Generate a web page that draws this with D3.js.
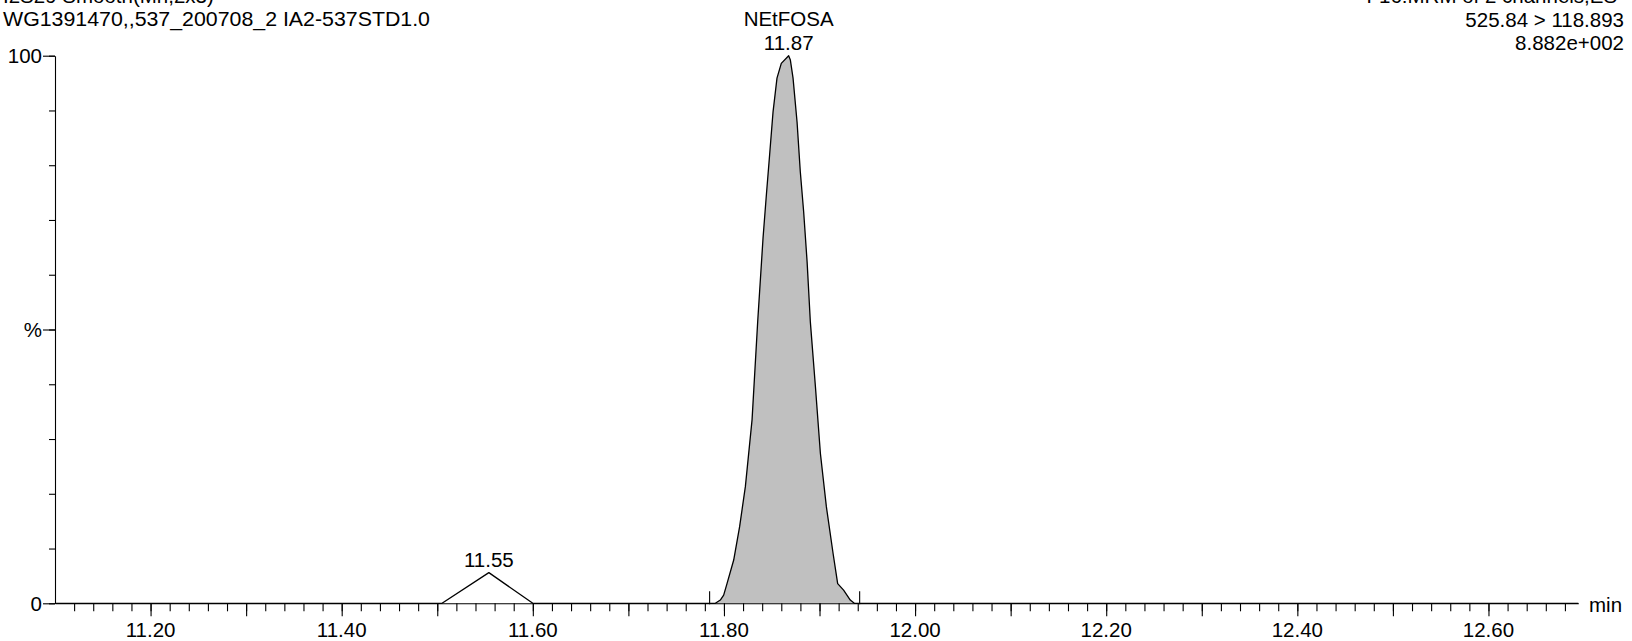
<!DOCTYPE html>
<html><head><meta charset="utf-8">
<script src="https://cdn.jsdelivr.net/npm/d3@7"></script>
<style>
body{margin:0;background:#fff}
svg{display:block}
text{font-family:"Liberation Sans",Arial,Helvetica,sans-serif;font-size:20.5px;fill:#000}
</style>
</head><body>
<svg id="c" width="1632" height="641"></svg>
<script>
// ---- data ----
const headerLeft = ["I2S29 Smooth(Mn,2x3)", "WG1391470,,537_200708_2 IA2-537STD1.0"];
const headerRight = ["F16:MRM of 2 channels,ES-", "525.84 > 118.893", "8.882e+002"];
const times = [11.10, 11.505, 11.554, 11.600, 11.791, 11.7962, 11.7997, 11.8032, 11.8102, 11.8164, 11.8224, 11.8294,
  11.8353, 11.8409, 11.8444, 11.8478, 11.8514, 11.8555, 11.8600, 11.8677, 11.8695, 11.8723, 11.8765, 11.8799,
  11.8834, 11.8870, 11.8904, 11.8957, 11.9009, 11.9072, 11.9142, 11.9190, 11.9252, 11.9322, 11.9364, 12.694];
const intensity = [0, 0, 5.6, 0, 0, 0.6, 1.5, 3.6, 7.9, 14.0, 21.3, 33.5,
  51.4, 66.7, 74.6, 81.9, 89.8, 95.9, 98.6, 100, 99.2, 95.9, 87.9, 78.8,
  71.5, 62.4, 51.4, 39.6, 27.4, 17.6, 9.1, 3.6, 2.4, 0.6, 0, 0];
const peakTimes = [11.554, 11.8677];
const peakHeights = [5.6, 100];
const peakLabels = ["11.55", "11.87"];
const compoundName = "NEtFOSA";
const integrationTimes = [11.785, 11.942];
const xTickLabels = ["11.20", "11.40", "11.60", "11.80", "12.00", "12.20", "12.40", "12.60"];
const yTickValues = [0, 50, 100];
const yTickLabels = ["0", "%", "100"];
const xUnit = "min";

// ---- layout ----
const svg = d3.select("#c");
const x = d3.scaleLinear().domain([11.10, 12.694]).range([55, 1578.3]);
const y = d3.scaleLinear().domain([0, 100]).range([603.3, 55.7]);
const data = times.map((t, i) => ({t, v: intensity[i]}));

// header text
svg.append("g").selectAll("text").data(headerLeft).join("text")
  .attr("x", 3).attr("y", (d, i) => 3 + i * 23)
  .attr("textLength", (d, i) => i === 1 ? 427 : null)
  .attr("lengthAdjust", "spacingAndGlyphs")
  .text(d => d);
svg.append("g").selectAll("text").data(headerRight).join("text")
  .attr("x", 1624).attr("y", (d, i) => 3 + i * 23.5).attr("text-anchor", "end").text(d => d);

// filled peak
const inPeak = data.filter(d => d.t >= integrationTimes[0] && d.t <= integrationTimes[1]);
svg.append("path").datum(inPeak)
  .attr("fill", "#c0c0c0")
  .attr("d", d3.area().x(d => x(d.t)).y0(y(0)).y1(d => y(d.v)));

// axes
const minorX = d3.range(11.12, 12.69, 0.02).map(v => +v.toFixed(2));
const majorX = d3.range(11.20, 12.65, 0.1).map(v => +v.toFixed(1));
const axStyle = g => { g.selectAll("path,line").attr("stroke", "#000").attr("stroke-width", 1.1); g.selectAll("text").remove(); };
svg.append("g").attr("transform", `translate(0,${y(0)})`)
  .call(d3.axisBottom(x).tickValues(minorX).tickSize(8).tickSizeOuter(0)).call(axStyle);
svg.append("g").attr("transform", `translate(0,${y(0)})`)
  .call(d3.axisBottom(x).tickValues(majorX).tickSize(13).tickSizeOuter(0)).call(axStyle)
  .select(".domain").remove();
svg.append("g").selectAll("text").data(xTickLabels).join("text")
  .attr("x", d => x(+d)).attr("y", 637).attr("text-anchor", "middle").text(d => d);
svg.append("text").attr("x", 1589).attr("y", 612).text(xUnit);

svg.append("g").attr("transform", `translate(${x(11.10)},0)`)
  .call(d3.axisLeft(y).tickValues(d3.range(0, 101, 10)).tickSize(6).tickSizeOuter(0)).call(axStyle);
svg.append("g").attr("transform", `translate(${x(11.10)},0)`)
  .call(d3.axisLeft(y).tickValues(yTickValues).tickSize(12).tickSizeOuter(0)).call(axStyle)
  .select(".domain").remove();
svg.append("g").selectAll("text").data(yTickValues).join("text")
  .attr("x", 42).attr("y", d => y(d)).attr("dy", "0.36em").attr("text-anchor", "end")
  .text((d, i) => yTickLabels[i]);

// trace
svg.append("path").datum(data)
  .attr("fill", "none").attr("stroke", "#000").attr("stroke-width", 1.3).attr("stroke-linejoin", "round")
  .attr("d", d3.line().x(d => x(d.t)).y(d => y(d.v)));

// integration markers
svg.append("g").selectAll("line").data(integrationTimes).join("line")
  .attr("x1", d => x(d)).attr("x2", d => x(d))
  .attr("y1", y(0) + 1).attr("y2", y(0) - 12)
  .attr("stroke", "#000").attr("stroke-width", 1.1);

// peak labels
svg.append("g").selectAll("text").data(peakLabels).join("text")
  .attr("x", (d, i) => x(peakTimes[i])).attr("y", (d, i) => y(peakHeights[i]) - 5.5)
  .attr("text-anchor", "middle").text(d => d);
svg.append("text").attr("x", x(peakTimes[1])).attr("y", y(peakHeights[1]) - 30)
  .attr("text-anchor", "middle").text(compoundName);
</script>
</body></html>
